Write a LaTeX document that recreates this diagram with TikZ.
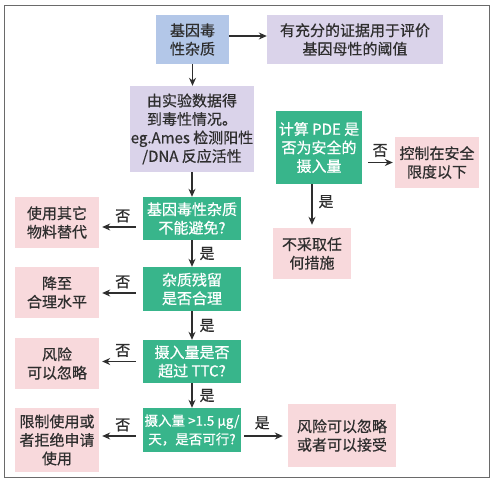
\documentclass[tikz,border=0pt]{standalone}
\usepackage{fontspec}
\setmainfont{Noto Sans CJK SC}[FakeBold=0.6]
\usetikzlibrary{arrows.meta}
\definecolor{boxblue}{HTML}{B3C7E8}
\definecolor{boxlilac}{HTML}{DAD3EA}
\definecolor{boxgreen}{HTML}{38B58B}
\definecolor{boxpink}{HTML}{F8D9DC}
\definecolor{textgray}{HTML}{2E2E2E}
\definecolor{framegray}{HTML}{6A6A6A}
\tikzset{
	box/.style={inner sep=0pt, align=center, text=textgray, font=\fontsize{15}{18.5}\selectfont},
	bluebox/.style={box, fill=boxblue},
	lilacbox/.style={box, fill=boxlilac},
	askbox/.style={box, fill=boxgreen, text=white},
	endbox/.style={box, fill=boxpink},
	arr/.style={-{Stealth[length=8pt,width=7pt]}, line width=1.1pt, draw=textgray},
	lbl/.style={inner sep=1pt, text=textgray, font=\fontsize{15}{16}\selectfont}
}

\begin{document}
\begin{tikzpicture}[x=1pt, y=-1pt]
	% page and frame: 495 x 483
	\useasboundingbox (0, 0) rectangle (495, 483);
	\draw[framegray, line width=1pt] (4, 5) rectangle (489, 477);
	% top row
	\node[bluebox, minimum width=73pt, minimum height=49pt] (gene) at (192.5, 39.5) {基因毒\\性杂质};
	\node[lilacbox, minimum width=176pt, minimum height=49pt] (evid) at (355, 39.5) {有充分的证据用于评价\\基因母性的阈值};
	\node[lilacbox, minimum width=124pt, minimum height=86pt] (data) at (192, 129) {由实验数据得\\到毒性情况。\\eg.Ames 检测阳性\\/DNA 反应活性};
	% right branch
	\node[askbox, minimum width=86pt, minimum height=73pt] (pde) at (319, 147.5) {计算 PDE 是\\否为安全的\\摄入量};
	\node[endbox, minimum width=84pt, minimum height=51pt] (ctrl) at (437, 162.5) {控制在安全\\限度以下};
	\node[endbox, minimum width=78pt, minimum height=51pt] (none) at (312, 253.5) {不采取任\\何措施};
	% main column
	\node[askbox, minimum width=98pt, minimum height=43pt] (avoid) at (192, 218.5) {基因毒性杂质\\不能避免?};
	\node[askbox, minimum width=98pt, minimum height=44pt] (resid) at (192, 289) {杂质残留\\是否合理};
	\node[askbox, minimum width=98pt, minimum height=43pt] (ttc) at (192, 361.5) {摄入量是否\\超过 TTC?};
	\node[askbox, minimum width=98pt, minimum height=44pt, font=\fontsize{13.5}{18.5}\selectfont] (dose) at (192, 430) {摄入量 >1.5 μg/\\天，是否可行?};
	% outcomes on the left
	\node[endbox, minimum width=84pt, minimum height=51pt] (other) at (57, 222.5) {使用其它\\物料替代};
	\node[endbox, minimum width=84pt, minimum height=51pt] (reduce) at (57, 292.5) {降至\\合理水平};
	\node[endbox, minimum width=84pt, minimum height=51pt] (negl) at (57, 363.5) {风险\\可以忽略};
	\node[endbox, minimum width=84pt, minimum height=64pt] (limit) at (57, 440) {限制使用或\\者拒绝申请\\使用};
	\node[endbox, minimum width=108pt, minimum height=63pt] (accept) at (342, 435.5) {风险可以忽略\\或者可以接受};
	% connectors
	\draw[arr] ([yshift=3.5pt]gene.east) -- ([yshift=3.5pt]evid.west);
	\draw[arr] (gene.south) -- (gene.south |- data.north);
	\draw[arr] (data.south) -- (data.south |- avoid.north);
	\draw[arr] (avoid.south) -- (resid.north) node[lbl, right=6pt, pos=0.5] {是};
	\draw[arr] (resid.south) -- (ttc.north) node[lbl, right=6pt, pos=0.5] {是};
	\draw[arr] (ttc.south) -- (dose.north) node[lbl, right=6pt, pos=0.5] {是};
	\draw[arr, shorten <=7pt, shorten >=3pt] ([yshift=-8.5pt]avoid.west) -- ([yshift=-8.5pt]avoid.west -| other.east) node[lbl, above=3pt, pos=0.46] {否};
	\draw[arr, shorten <=7pt, shorten >=3pt] ([yshift=-4pt]resid.west) -- ([yshift=-4pt]resid.west -| reduce.east) node[lbl, above=3pt, pos=0.46] {否};
	\draw[arr, shorten <=7pt, shorten >=3pt] (ttc.west) -- (ttc.west -| negl.east) node[lbl, above=3pt, pos=0.46] {否};
	\draw[arr, shorten <=7pt, shorten >=3pt] ([yshift=-6pt]dose.west) -- ([yshift=-6pt]dose.west -| limit.east) node[lbl, above=3pt, pos=0.46] {否};
	\draw[arr, shorten <=3pt, shorten >=5pt] ([yshift=-6pt]dose.east) -- ([yshift=-6pt]dose.east -| accept.west) node[lbl, above=5pt, pos=0.45] {是};
	\draw[arr, shorten <=6pt, shorten >=2pt] (pde.east |- ctrl) -- (ctrl.west) node[lbl, above=4pt, pos=0.55] {否};
	\draw[arr, shorten >=3pt] (none.north |- pde.south) -- (none.north) node[lbl, right=5pt, pos=0.4] {是};
\end{tikzpicture}
\end{document}
